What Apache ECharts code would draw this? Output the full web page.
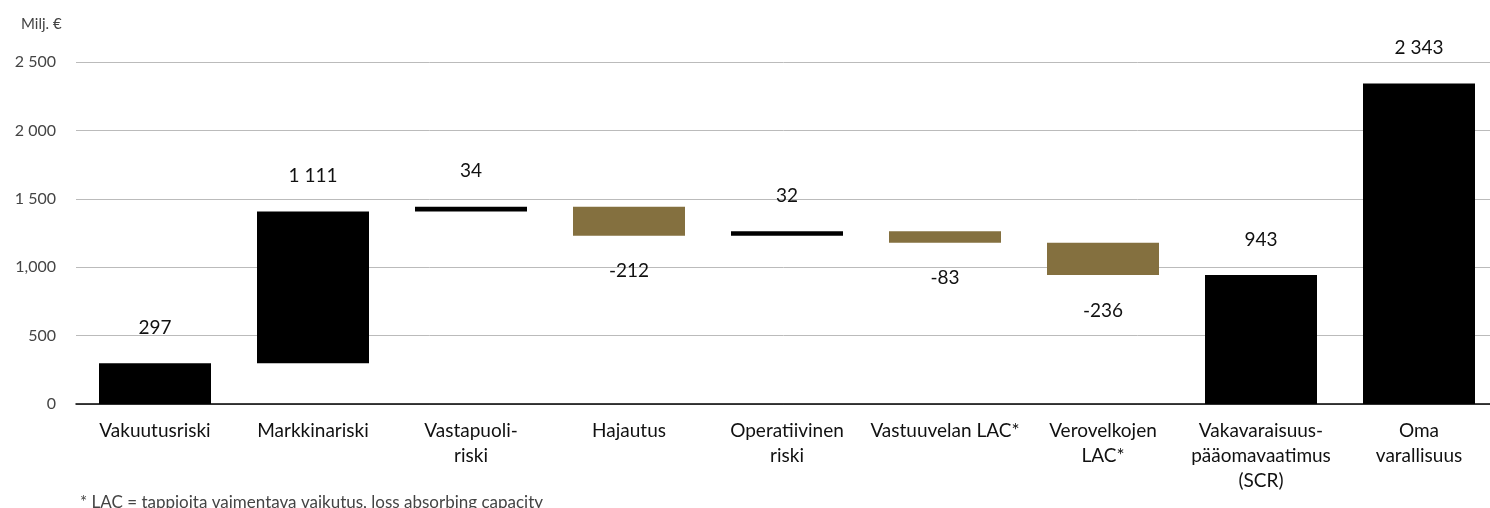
<!DOCTYPE html>
<html>
<head>
<meta charset="utf-8">
<script src="https://cdn.jsdelivr.net/npm/echarts@6/dist/echarts.min.js"></script>
<style>
	html, body { margin: 0; padding: 0; background: #fff; }
	#chart { width: 1490px; height: 508px; }
</style>
</head>
<body>
<div id="chart"></div>
<script>
// waterfall data
var categories = ['Vakuutusriski', 'Markkinariski', 'Vastapuoli-\nriski', 'Hajautus', 'Operatiivinen\nriski',
	'Vastuuvelan LAC*', 'Verovelkojen\nLAC*', 'Vakavaraisuus-\npääomavaatimus\n(SCR)', 'Oma\nvarallisuus'];
var values = [297, 1111, 34, -212, 32, -83, -236, 943, 2343];
var isTotal = [false, false, false, false, false, false, false, true, true];
var yTicks = [0, 500, 1000, 1500, 2000, 2500];
var yTickLabels = ['0', '500', '1,000', '1 500', '2 000', '2 500'];

var GOLD = '#84703f';

function fmt(v) {
	var s = String(Math.abs(v)).replace(/\B(?=(\d{3})+(?!\d))/g, ' ');
	return (v < 0 ? '-' : '') + s;
}

// build invisible base + visible part
var baseData = [], barData = [];
var running = 0;
for (var i = 0; i < values.length; i++) {
	var v = values[i];
	if (isTotal[i]) {
		baseData.push(0);
		barData.push({ value: v, raw: v, itemStyle: { color: '#000' }, label: { position: 'top' } });
		running = v;
	} else {
		var lo = v < 0 ? running + v : running;
		baseData.push(lo);
		barData.push({
			value: Math.abs(v), raw: v,
			itemStyle: { color: v < 0 ? GOLD : '#000' },
			label: { position: v < 0 ? 'bottom' : 'top' }
		});
		running += v;
	}
}

var chart = echarts.init(document.getElementById('chart'));
var option = {
	animation: false,
	textStyle: { fontFamily: 'Lato' },
	grid: { left: 76, width: 1422, top: 62, bottom: 104, outerBoundsMode: 'none' },
	title: {
		text: 'Milj. €', left: 16, top: 12,
		textStyle: { fontSize: 15, fontWeight: 'normal', color: '#444', fontFamily: 'Lato' }
	},
	graphic: [{
		type: 'text', left: 80, top: 494,
		style: { text: '* LAC = tappioita vaimentava vaikutus, loss absorbing capacity', fontSize: 17, fill: '#444', fontFamily: 'Lato' }
	}],
	xAxis: {
		type: 'category',
		data: categories,
		axisTick: { show: false },
		axisLine: { lineStyle: { color: '#000', width: 1.5 } },
		axisLabel: { color: '#111', fontSize: 19, lineHeight: 25, margin: 14, interval: 0 }
	},
	yAxis: {
		type: 'value', min: 0, max: 2500, interval: 500,
		axisLine: { show: false },
		axisTick: { show: false },
		splitLine: { lineStyle: { color: '#bbb', width: 1 } },
		axisLabel: {
			color: '#444', fontSize: 16, margin: 20,
			formatter: function (v) { var k = yTicks.indexOf(v); return k >= 0 ? yTickLabels[k] : ''; }
		}
	},
	series: [
		{
			type: 'bar', stack: 'w', data: baseData, barWidth: 112,
			itemStyle: { color: 'transparent' }, silent: true
		},
		{
			type: 'bar', stack: 'w', data: barData, barWidth: 112,
			label: {
				show: true, distance: 26, fontSize: 19, color: '#111',
				formatter: function (p) { return fmt(p.data.raw); }
			}
		}
	]
};
chart.setOption(option);
</script>
</body>
</html>
